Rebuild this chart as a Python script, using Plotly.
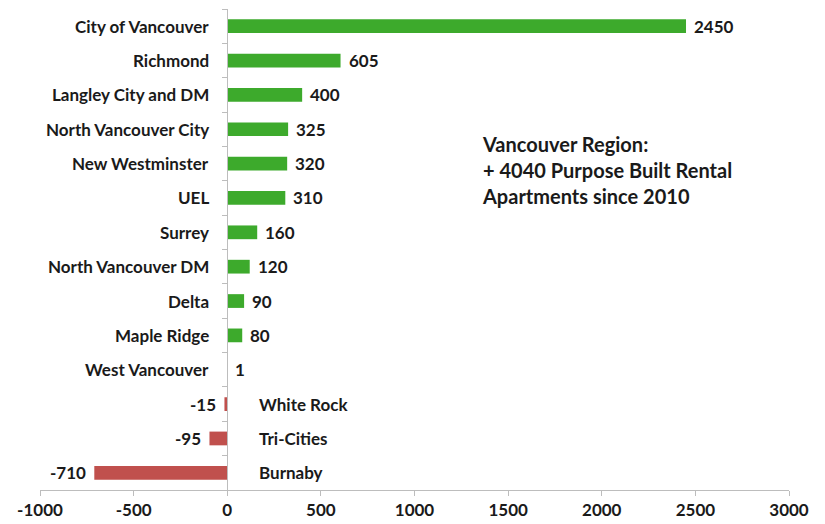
import plotly.graph_objects as go

categories = ["City of Vancouver", "Richmond", "Langley City and DM", "North Vancouver City",
              "New Westminster", "UEL", "Surrey", "North Vancouver DM", "Delta", "Maple Ridge",
              "West Vancouver", "White Rock", "Tri-Cities", "Burnaby"]
values = [2450, 605, 400, 325, 320, 310, 160, 120, 90, 80, 1, -15, -95, -710]
x_ticks = [-1000, -500, 0, 500, 1000, 1500, 2000, 2500, 3000]
note_lines = ["Vancouver Region:", "+ 4040 Purpose Built Rental", "Apartments since 2010"]

GREEN = "#3DAA2C"
RED = "#C0504D"
FONT = "Lato"
TXT = "#1a1a1a"

colors = [GREEN if v >= 0 else RED for v in values]
lab_font = dict(family=FONT, size=17, color=TXT, weight="bold")

fig = go.Figure(go.Bar(
    x=values, y=categories, orientation="h",
    marker=dict(color=colors, line=dict(width=0)),
    cliponaxis=False, width=0.4, hoverinfo="x+y",
))

for c, v in zip(categories, values):
    pos = v >= 0
    # category label
    fig.add_annotation(x=0, y=c, text=c, showarrow=False,
                       xanchor="right" if pos else "left",
                       xshift=-16 if pos else 30, font=lab_font)
    # value label
    fig.add_annotation(x=v, y=c, text=str(v), showarrow=False,
                       xanchor="left" if pos else "right",
                       xshift=6 if pos else -6, font=lab_font)

fig.add_annotation(xref="paper", yref="paper", x=0.588, y=0.748, xanchor="left", yanchor="top",
                   text="<br>".join(note_lines), showarrow=False, align="left",
                   font=dict(family=FONT, size=20, color=TXT, weight="bold"))

fig.update_layout(
    width=817, height=516,
    margin=dict(l=32, r=36, t=1, b=34, autoexpand=False),
    paper_bgcolor="white", plot_bgcolor="white",
    showlegend=False,
    xaxis=dict(range=[-1000, 3000], tickvals=x_ticks, ticktext=[str(t) for t in x_ticks],
               showgrid=False, zeroline=False, showline=True, linecolor="#BDBDBD", linewidth=1,
               ticks="outside", ticklen=5, tickcolor="#BDBDBD", automargin=False,
               tickfont=lab_font),
    yaxis=dict(autorange="reversed", showticklabels=False, showgrid=False, zeroline=False,
               showline=True, linecolor="#BDBDBD", linewidth=1, anchor="free", position=0.25,
               ticks="outside", ticklen=5, tickcolor="#BDBDBD", tickson="boundaries",
               automargin=False),
    bargap=0.6,
)

fig.write_html("out.html")
